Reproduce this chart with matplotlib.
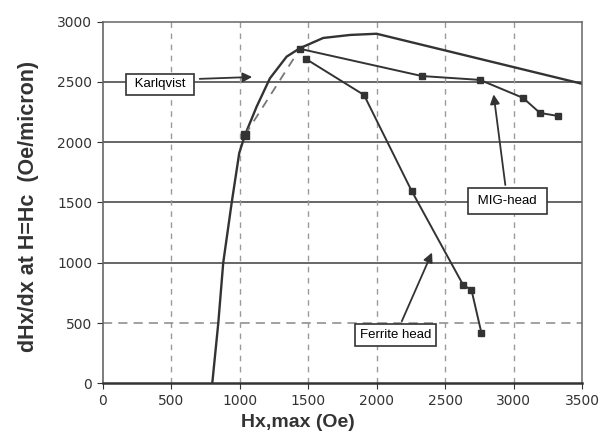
import numpy as np
import matplotlib.pyplot as plt

# Karlqvist limit curve
karl_x = [800, 844, 880, 942, 997, 1039, 1124, 1221, 1343, 1440, 1610, 1807, 2000, 3500]
karl_y = [0, 500, 1000, 1500, 1910, 2060, 2295, 2530, 2710, 2780, 2865, 2890, 2900, 2485]

# dashed branch from the low-field point up to the MIG peak
dash_x = [1039, 1440]
dash_y = [2060, 2775]

# MIG head
mig_x = [1440, 2331, 2755, 3069, 3193, 3324]
mig_y = [2775, 2549, 2517, 2368, 2243, 2218]

# Ferrite head
fer_x = [1485, 1908, 2255, 2632, 2693, 2766]
fer_y = [2690, 2392, 1598, 816, 774, 415]

xticks = [0, 500, 1000, 1500, 2000, 2500, 3000, 3500]
yticks = [0, 500, 1000, 1500, 2000, 2500, 3000]

plt.rcParams['font.family'] = ['Liberation Sans', 'DejaVu Sans']

fig = plt.figure(figsize=(6.06, 4.40), dpi=100)
ax = fig.add_axes([0.1695, 0.1289, 0.7909, 0.8218])

for y in yticks[1:-1]:
    if y == 500:
        ax.axhline(y, color='#888888', lw=1.1, ls=(0, (6, 4)), zorder=0)
    else:
        ax.axhline(y, color='#5a5a5a', lw=1.3, zorder=0)
for x in xticks[1:-1]:
    ax.axvline(x, color='#9a9a9a', lw=1.0, ls=(0, (4, 4)), zorder=0)

ax.plot(karl_x, karl_y, color='#333333', lw=1.7)
ax.plot(dash_x, dash_y, color='#777777', lw=1.3, ls=(0, (5, 4)))
ax.plot(dash_x[:1], dash_y[:1], 's', color='#333333', ms=6)
ax.plot(mig_x, mig_y, color='#333333', lw=1.4, marker='s', ms=4.5)
ax.plot(fer_x, fer_y, color='#333333', lw=1.4, marker='s', ms=5)

box = dict(boxstyle='square,pad=0.35', fc='white', ec='#333333', lw=1.2)
arr = dict(arrowstyle='-|>', color='#333333', lw=1.3, mutation_scale=14)
ax.text(418, 2482, ' Karlqvist ', ha='center', va='center', fontsize=9.5, bbox=box)
ax.annotate('', xy=(1112, 2542), xytext=(688, 2525), arrowprops=arr)
ax.annotate(' MIG-head ', xy=(2852, 2420), xytext=(2955, 1513), ha='center', va='center',
            fontsize=9.5, bbox=dict(boxstyle='square,pad=0.5', fc='white', ec='#333333', lw=1.2),
            arrowprops=arr)
ax.annotate('Ferrite head', xy=(2413, 1106), xytext=(2140, 401), ha='center', va='center',
            fontsize=9.5, bbox=box, arrowprops=arr)

ax.set_xlim(0, 3500)
ax.set_ylim(0, 3000)
ax.set_xticks(xticks)
ax.set_yticks(yticks)
ax.tick_params(length=4, colors='#333333')
for lbl in ax.get_xticklabels() + ax.get_yticklabels():
    lbl.set_family('DejaVu Sans')
    lbl.set_fontsize(10)
ax.spines['bottom'].set_color('#333333')
ax.spines['bottom'].set_linewidth(1.8)
ax.spines['left'].set_color('#666666')
ax.spines['left'].set_linewidth(1.2)
for s in ['top', 'right']:
    ax.spines[s].set_color('#666666')
    ax.spines[s].set_linewidth(1.1)

ax.set_xlabel('Hx,max (Oe)', fontsize=14, fontweight='bold', color='#333333')
ax.xaxis.set_label_coords(0.4075, -0.085)
ax.set_ylabel('dHx/dx at H=Hc  (Oe/micron)', fontsize=15.5, fontweight='bold', color='#333333')
ax.yaxis.set_label_coords(-0.133, 0.49)

fig.savefig('out.png', dpi=100)
